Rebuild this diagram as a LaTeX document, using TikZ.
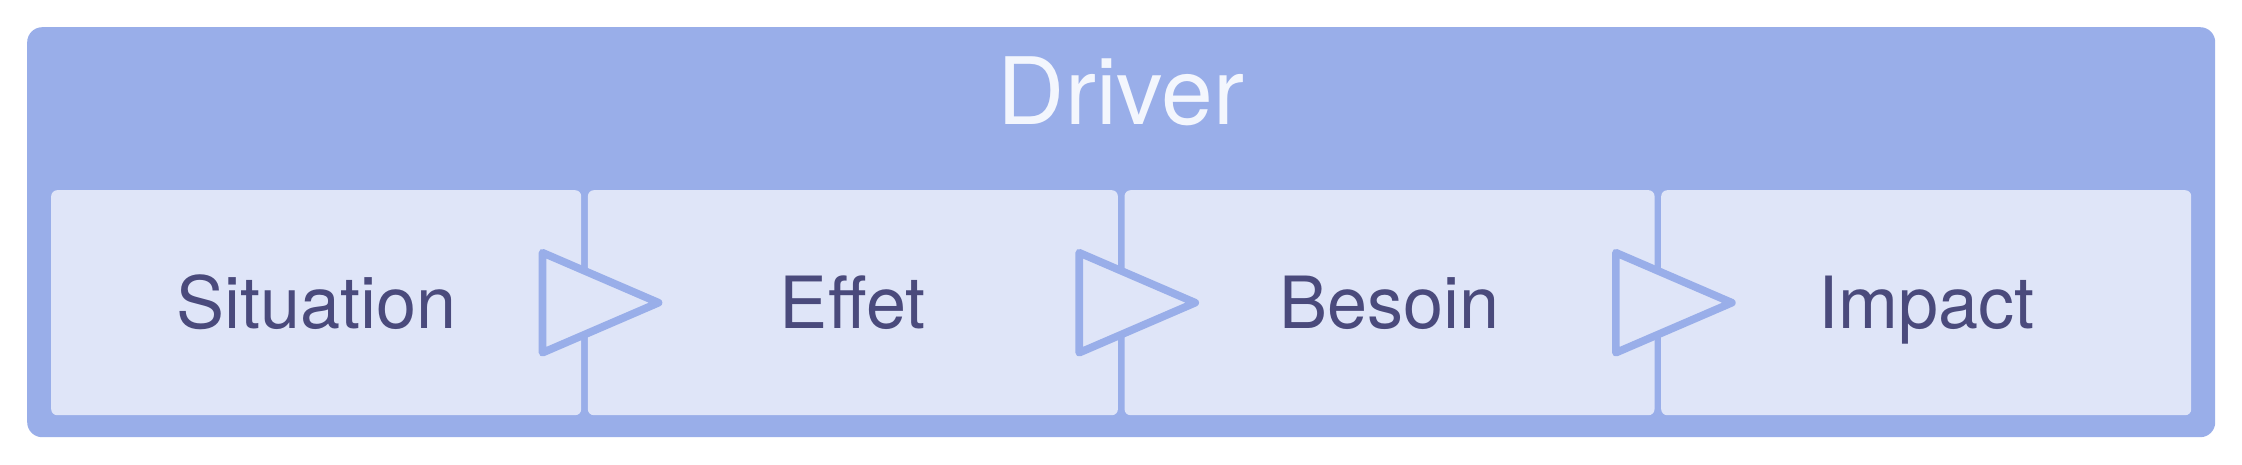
\documentclass[tikz,border=0pt]{standalone}
\usepackage{fontspec}
\setmainfont{TeX Gyre Heros}
\usetikzlibrary{calc}
\definecolor{outerc}{HTML}{99AEE9}
\definecolor{innerc}{HTML}{DFE5F8}
\definecolor{textc}{HTML}{4A4A7C}
\definecolor{titlec}{HTML}{F3F6FD}
\begin{document}
\begin{tikzpicture}[x=1pt,y=-1pt,
  outerbox/.style={fill=outerc, rounded corners=15pt, draw=none, inner sep=0pt,
    minimum width=2188pt, minimum height=410pt, anchor=north west},
  titletext/.style={text=titlec, font=\fontsize{93}{110}\selectfont, anchor=base, inner sep=0pt},
  stagebox/.style={fill=innerc, rounded corners=6pt, minimum width=530pt, minimum height=225pt,
    inner sep=0pt, anchor=north west, text=textc, font=\fontsize{72}{86}\selectfont,
    text height=52pt, text depth=0pt},
  arrowtri/.style={draw=outerc, fill=innerc, line width=7.7pt, line join=round}]
\useasboundingbox (0,0) rectangle (2242,464);
\node[outerbox] (driver) at (27,27) {};
\node[titletext] (title) at (1121,124) {Driver};
\node[stagebox] (b1) at (51,190) {Situation};
\node[stagebox] (b2) at (587.67,190) {Effet};
\node[stagebox] (b3) at (1124.33,190) {Besoin};
\node[stagebox] (b4) at (1661,190) {Impact};
\coordinate (g1) at ($(b1.east)!0.5!(b2.west)$);
\coordinate (g2) at ($(b2.east)!0.5!(b3.west)$);
\coordinate (g3) at ($(b3.east)!0.5!(b4.west)$);
\foreach \g in {g1,g2,g3}{
  \draw[arrowtri] ($(\g)+(-42,-50)$) -- ($(\g)+(74,0)$) -- ($(\g)+(-42,50)$) -- cycle;
}
\end{tikzpicture}
\end{document}
